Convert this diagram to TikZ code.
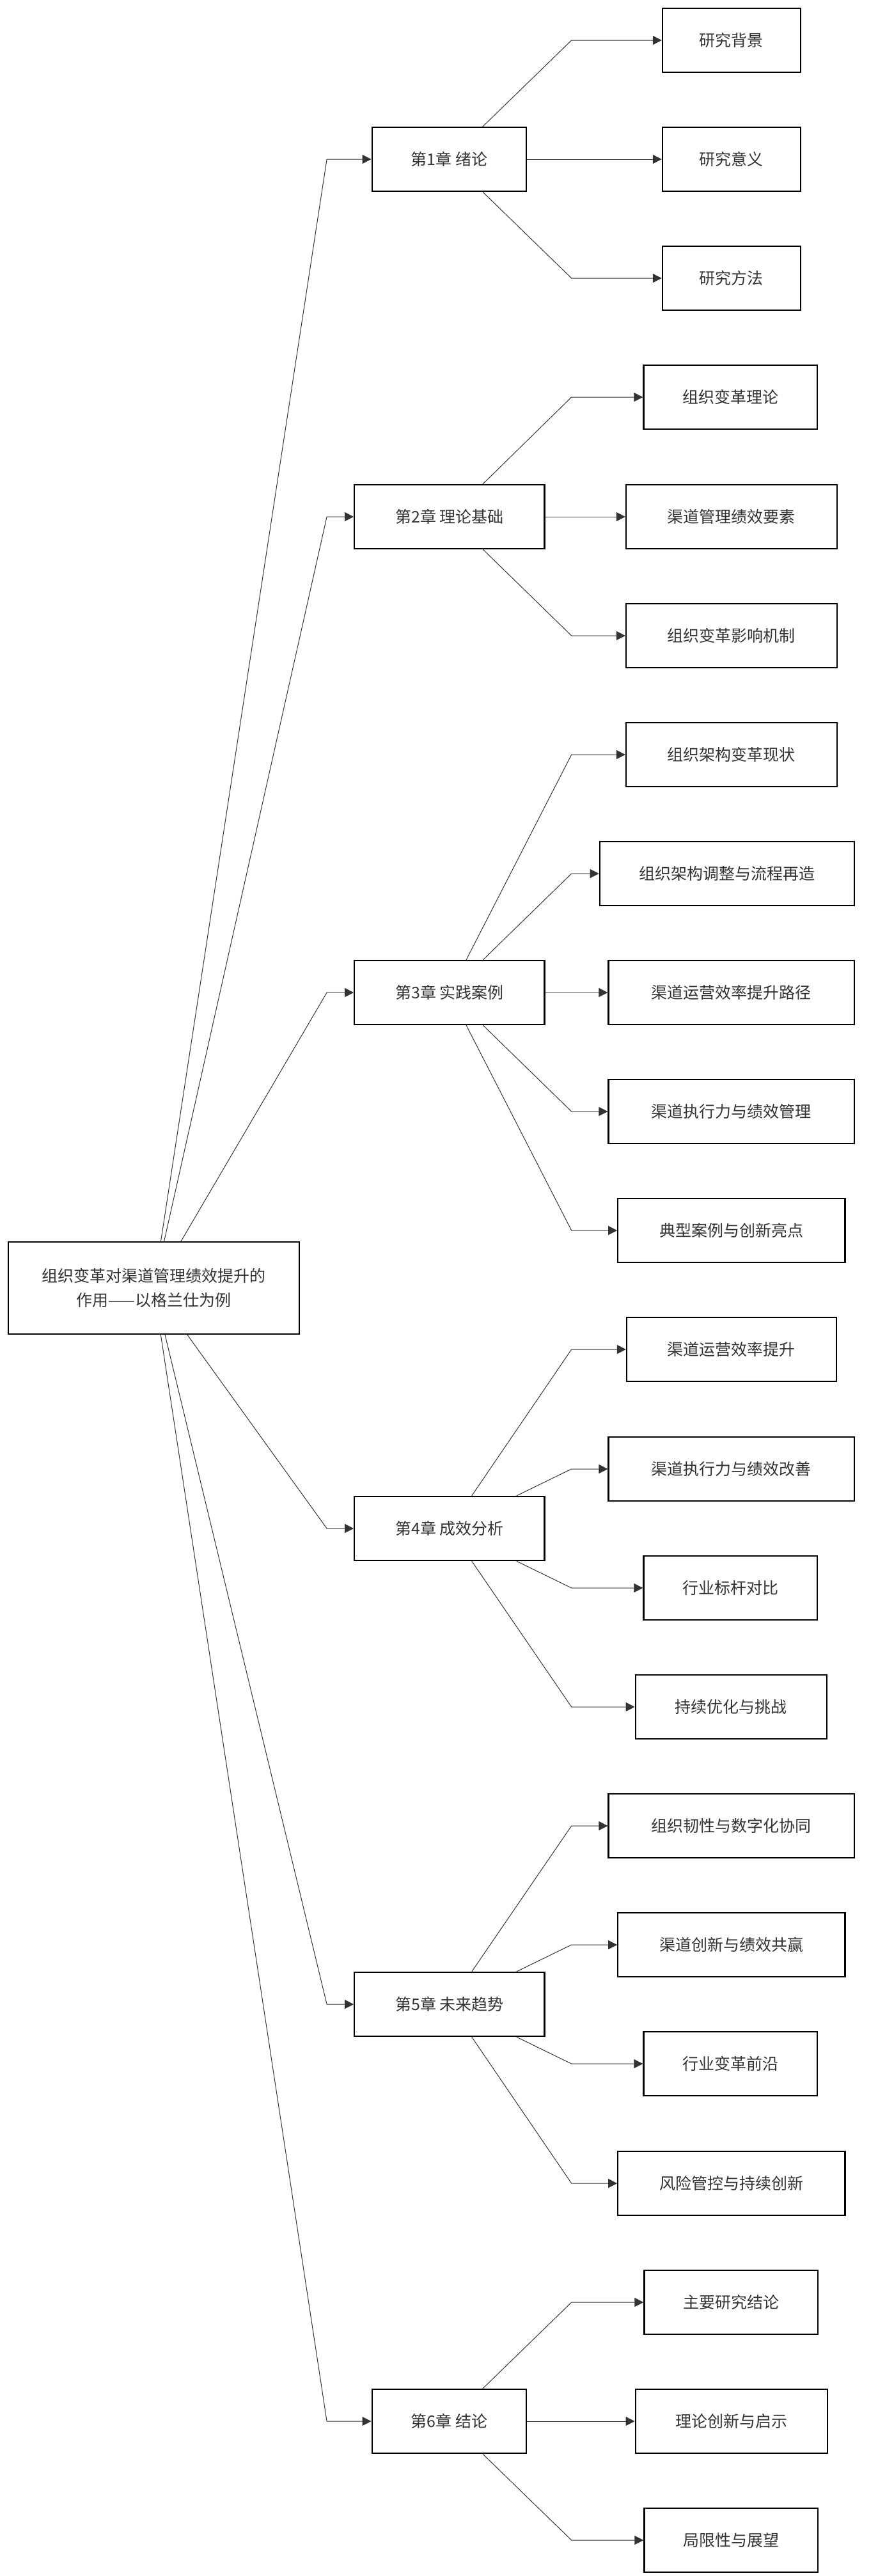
\documentclass[tikz,border=0pt]{standalone}
\usepackage{fontspec}
\setmainfont{Noto Sans CJK SC}
\usetikzlibrary{arrows.meta}
\definecolor{txt}{HTML}{333333}
\tikzset{
  box/.style={draw=black, line width=1.1pt, fill=white, inner sep=0pt, minimum height=50pt, text=txt, font=\fontsize{12.5}{19}\selectfont, align=center},
  conn/.style={draw=txt, line width=0.5pt, -{Triangle[length=7pt,width=7pt]}}
}
\begin{document}
\begin{tikzpicture}[x=0.4905pt,y=-0.5pt]
\useasboundingbox (0,0) rectangle (1398.6,4028);
\coordinate (e) at (911,0);
\coordinate (r) at (521,0);
\node[box, minimum width=227.6pt, minimum height=72pt] (root) at (245,2014) {组织变革对渠道管理绩效提升的\\作用——以格兰仕为例};
\node[box, minimum width=120.7pt] (c1) at (716,249) {第1章 绪论};
\node[box, minimum width=148.6pt] (c2) at (716.5,808) {第2章 理论基础};
\node[box, minimum width=148.6pt] (c3) at (716.5,1552) {第3章 实践案例};
\node[box, minimum width=148.6pt] (c4) at (716.5,2390) {第4章 成效分析};
\node[box, minimum width=148.6pt] (c5) at (716.5,3134) {第5章 未来趋势};
\node[box, minimum width=120.7pt] (c6) at (716,3786) {第6章 结论};
\foreach \i/\t/\a/\b/\y in {
0/研究背景/1056/1276/63, 1/研究意义/1056/1276/249, 2/研究方法/1056/1276/435,
3/组织变革理论/1026/1303/621, 4/渠道管理绩效要素/998/1334/808, 5/组织变革影响机制/998/1334/994,
6/组织架构变革现状/998/1334/1180, 7/组织架构调整与流程再造/956/1362/1366, 8/渠道运营效率提升路径/970/1362/1552,
9/渠道执行力与绩效管理/970/1362/1738, 10/典型案例与创新亮点/985/1347/1924,
11/渠道运营效率提升/999/1333/2110, 12/渠道执行力与绩效改善/970/1362/2297, 13/行业标杆对比/1026/1303/2483, 14/持续优化与挑战/1013/1318/2669,
15/组织韧性与数字化协同/970/1362/2855, 16/渠道创新与绩效共赢/985/1347/3041, 17/行业变革前沿/1026/1303/3227, 18/风险管控与持续创新/985/1347/3414,
19/主要研究结论/1027/1304/3600, 20/理论创新与启示/1013/1319/3786, 21/局限性与展望/1027/1304/3972}
{
  \pgfmathsetmacro\w{(\b-\a)*0.4905}
  \pgfmathsetmacro\cx{(\a+\b)/2}
  \node[box, minimum width=\w pt] (l\i) at (\cx,\y) {\t};
}
\foreach \j in {1,...,6}
  \draw[conn] (root) -- (c\j.west -| r) -- (c\j.west);
\foreach \c/\lo/\hi in {c1/0/2, c2/3/5, c3/6/10, c4/11/14, c5/15/18, c6/19/21}
  \foreach \i in {\lo,...,\hi}
    \draw[conn] (\c) -- (l\i.west -| e) -- (l\i.west);
\end{tikzpicture}
\end{document}
